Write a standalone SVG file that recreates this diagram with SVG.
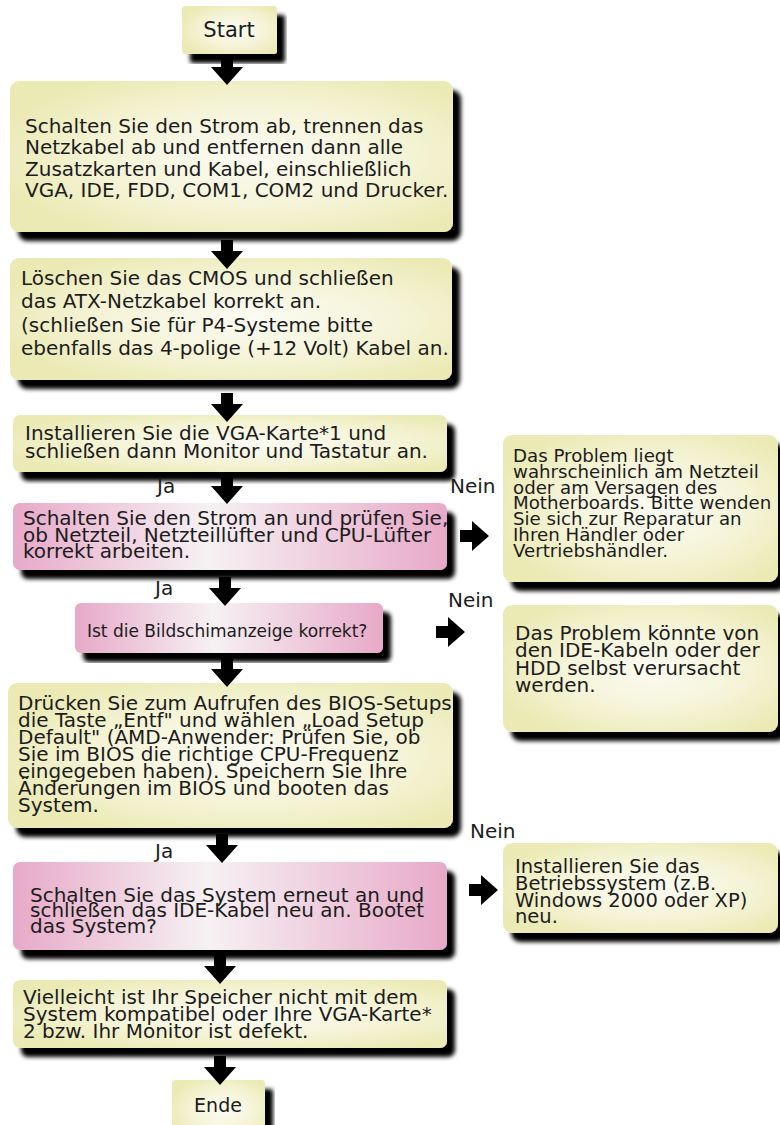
<svg xmlns="http://www.w3.org/2000/svg" xmlns:xlink="http://www.w3.org/1999/xlink" width="780" height="1125" viewBox="0 0 780 1125">
<style>
text { font-family: "DejaVu Sans", Verdana, sans-serif; fill: #1c1c1c; }
.t20 { font-size: 20px; }
.t19 { font-size: 19px; }
.t18 { font-size: 18.2px; }
.t17 { font-size: 17px; }
.lbl { font-size: 20px; }
.yel { fill: url(#gy); filter: url(#sh); }
.pink { fill: url(#gp); filter: url(#sh); }
.arr { fill: #000; }
</style>
<defs>
<radialGradient id="gy" cx="0.55" cy="0.5" r="0.6">
<stop offset="0" stop-color="#fbfbf3"/>
<stop offset="0.55" stop-color="#f5f4d8"/>
<stop offset="1" stop-color="#ebeab5"/>
</radialGradient>
<linearGradient id="gp" x1="0" y1="0" x2="1" y2="0">
<stop offset="0" stop-color="#e7a9c8"/>
<stop offset="0.45" stop-color="#f6f1f3"/>
<stop offset="1" stop-color="#e7a9c8"/>
</linearGradient>
<filter id="sh" x="-5%" y="-10%" width="115%" height="130%">
<feGaussianBlur in="SourceAlpha" stdDeviation="2"/>
<feOffset dx="8" dy="9" result="o"/>
<feMerge><feMergeNode in="o"/><feMergeNode in="SourceGraphic"/></feMerge>
</filter>
<path id="ad" d="M-6,0 H6 V11 H16 L0,29 L-16,11 H-6 Z"/>
<path id="ar" d="M0,-6 H12 V-15 L29,0 L12,15 V6 H0 Z"/>
</defs>
<rect width="780" height="1125" fill="#fff"/>

<g id="start">
<rect class="yel" x="182" y="6" width="95" height="48" rx="3"/>
<text class="t20" x="229" y="37" text-anchor="middle" style="font-size:21px">Start</text>
</g>

<g id="box1">
<rect class="yel" x="10" y="81" width="443" height="151" rx="9"/>
<text class="t20" x="25" y="133">Schalten Sie den Strom ab, trennen das</text>
<text class="t20" x="25" y="154">Netzkabel ab und entfernen dann alle</text>
<text class="t20" x="25" y="176">Zusatzkarten und Kabel, einschließlich</text>
<text class="t20" x="25" y="197">VGA, IDE, FDD, COM1, COM2 und Drucker.</text>
</g>

<g id="box2">
<rect class="yel" x="10" y="258" width="442" height="122" rx="9"/>
<text class="t20" x="21" y="285">Löschen Sie das CMOS und schließen</text>
<text class="t20" x="21" y="308">das ATX-Netzkabel korrekt an.</text>
<text class="t20" x="21" y="332">(schließen Sie für P4-Systeme bitte</text>
<text class="t20" x="21" y="355">ebenfalls das 4-polige (+12 Volt) Kabel an.</text>
</g>

<g id="box3">
<rect class="yel" x="13" y="415" width="434" height="57" rx="7"/>
<text class="t20" x="25" y="440">Installieren Sie die VGA-Karte*1 und</text>
<text class="t20" x="25" y="458">schließen dann Monitor und Tastatur an.</text>
</g>

<g id="box4">
<rect class="pink" x="13" y="503" width="434" height="67" rx="7"/>
<text class="t20" x="23" y="525">Schalten Sie den Strom an und prüfen Sie,</text>
<text class="t20" x="23" y="542">ob Netzteil, Netzteillüfter und CPU-Lüfter</text>
<text class="t20" x="23" y="558">korrekt arbeiten.</text>
</g>

<g id="box5">
<rect class="pink" x="75" y="603" width="308" height="50" rx="6"/>
<text class="t17" x="87" y="637">Ist die Bildschimanzeige korrekt?</text>
</g>

<g id="box6">
<rect class="yel" x="8" y="683" width="445" height="145" rx="9"/>
<text class="t20" x="18" y="710">Drücken Sie zum Aufrufen des BIOS-Setups</text>
<text class="t20" x="18" y="727">die Taste „Entf" und wählen „Load Setup</text>
<text class="t20" x="18" y="744">Default" (AMD-Anwender: Prüfen Sie, ob</text>
<text class="t20" x="18" y="761">Sie im BIOS die richtige CPU-Frequenz</text>
<text class="t20" x="18" y="778">eingegeben haben). Speichern Sie Ihre</text>
<text class="t20" x="18" y="795">Änderungen im BIOS und booten das</text>
<text class="t20" x="18" y="812">System.</text>
</g>

<g id="box7">
<rect class="pink" x="13" y="862" width="434" height="88" rx="7"/>
<text class="t20" x="30" y="902">Schalten Sie das System erneut an und</text>
<text class="t20" x="30" y="917">schließen das IDE-Kabel neu an. Bootet</text>
<text class="t20" x="30" y="933">das System?</text>
</g>

<g id="box8">
<rect class="yel" x="13" y="980" width="434" height="68" rx="7"/>
<text class="t20" x="23" y="1004">Vielleicht ist Ihr Speicher nicht mit dem</text>
<text class="t20" x="23" y="1021">System kompatibel oder Ihre VGA-Karte*</text>
<text class="t20" x="23" y="1038">2 bzw. Ihr Monitor ist defekt.</text>
</g>

<g id="ende">
<rect class="yel" x="172" y="1080" width="93" height="60" rx="3"/>
<text class="t19" x="218" y="1112" text-anchor="middle">Ende</text>
</g>

<g id="res1">
<rect class="yel" x="503" y="435" width="275" height="147" rx="9"/>
<text class="t18" x="513" y="462">Das Problem liegt</text>
<text class="t18" x="513" y="478">wahrscheinlich am Netzteil</text>
<text class="t18" x="513" y="494">oder am Versagen des</text>
<text class="t18" x="513" y="509">Motherboards. Bitte wenden</text>
<text class="t18" x="513" y="525">Sie sich zur Reparatur an</text>
<text class="t18" x="513" y="541">Ihren Händler oder</text>
<text class="t18" x="513" y="557">Vertriebshändler.</text>
</g>

<g id="res2">
<rect class="yel" x="503" y="605" width="275" height="127" rx="9"/>
<text class="t20" x="515" y="640">Das Problem könnte von</text>
<text class="t20" x="515" y="657">den IDE-Kabeln oder der</text>
<text class="t20" x="515" y="675">HDD selbst verursacht</text>
<text class="t20" x="515" y="692">werden.</text>
</g>

<g id="res3">
<rect class="yel" x="503" y="843" width="275" height="90" rx="9"/>
<text class="t19" x="515" y="873" style="font-size:19.5px">Installieren Sie das</text>
<text class="t19" x="515" y="890" style="font-size:19.5px">Betriebssystem (z.B.</text>
<text class="t19" x="515" y="907" style="font-size:19.5px">Windows 2000 oder XP)</text>
<text class="t19" x="515" y="923" style="font-size:19.5px">neu.</text>
</g>

<g id="connectors">
<use href="#ad" class="arr" x="227" y="56"/>
<use href="#ad" class="arr" x="227" y="240"/>
<use href="#ad" class="arr" x="227" y="393"/>
<use href="#ad" class="arr" x="227" y="475"/>
<use href="#ad" class="arr" x="225" y="577"/>
<use href="#ad" class="arr" x="227" y="658"/>
<use href="#ad" class="arr" x="222" y="834"/>
<use href="#ad" class="arr" x="220" y="955"/>
<use href="#ad" class="arr" x="220" y="1056"/>
<use href="#ar" class="arr" x="460" y="536"/>
<use href="#ar" class="arr" x="436" y="632"/>
<use href="#ar" class="arr" x="469" y="890"/>
<text class="lbl" x="157" y="493">Ja</text>
<text class="lbl" x="450" y="493">Nein</text>
<text class="lbl" x="155" y="595">Ja</text>
<text class="lbl" x="448" y="607">Nein</text>
<text class="lbl" x="470" y="838">Nein</text>
<text class="lbl" x="155" y="858">Ja</text>
</g>
</svg>
